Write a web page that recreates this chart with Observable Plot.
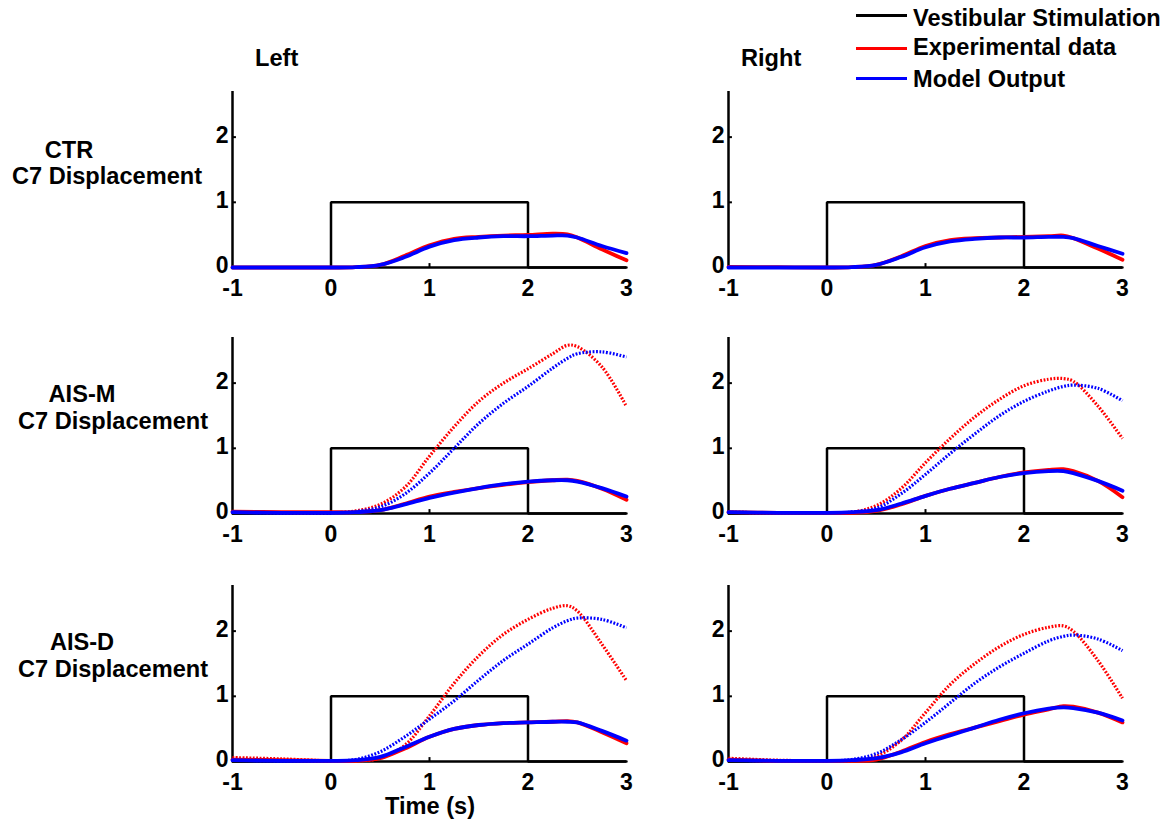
<!DOCTYPE html>
<html>
<head>
<meta charset="utf-8">
<script src="https://cdn.jsdelivr.net/npm/d3@7"></script>
<script src="https://cdn.jsdelivr.net/npm/@observablehq/plot@0.6"></script>
<style>
  html, body { margin: 0; padding: 0; background: #fff; }
  #root { position: relative; width: 1175px; height: 822px; overflow: hidden; background: #fff;
          font-family: 'Liberation Sans', Arial, sans-serif; font-weight: bold; color: #000; }
  .lbl { position: absolute; white-space: nowrap; line-height: 0.9; }
  .panel { position: absolute; }
  .panel svg { overflow: visible; }
  .legline { position: absolute; height: 3px; }
</style>
</head>
<body>
<div id="root"></div>
<script>
// ---------- data ----------
const TIME = [-1, -0.5, 0, 0.25, 0.5, 0.75, 1, 1.25, 1.5, 1.75, 2, 2.25, 2.4, 2.5, 2.75, 3];
const STIM_T = [-1, 0, 0, 2, 2, 3];
const STIM_V = [0, 0, 1, 1, 0, 0];
const X_TICKS = [-1, 0, 1, 2, 3];
const Y_TICKS = [0, 1, 2];

const COLUMNS = ["Left", "Right"];
const ROW_NAMES = ["CTR", "AIS-M", "AIS-D"];
const ROW_SUB = "C7 Displacement";
const X_LABEL = "Time (s)";
const LEGEND_LABELS = ["Vestibular Stimulation", "Experimental data", "Model Output"];
const LEGEND_COLORS = ["#000000", "#ff0000", "#0000ff"];

// CTR
const CTR_L_EXP = [0, 0, 0, 0.005, 0.04, 0.18, 0.34, 0.44, 0.47, 0.49, 0.50, 0.52, 0.51, 0.46, 0.28, 0.11];
const CTR_L_MOD = [0, 0, 0, 0.005, 0.04, 0.16, 0.32, 0.42, 0.46, 0.48, 0.48, 0.49, 0.49, 0.46, 0.33, 0.22];
const CTR_R_EXP = [0.01, 0.005, 0, 0.005, 0.04, 0.17, 0.33, 0.42, 0.45, 0.46, 0.47, 0.48, 0.49, 0.45, 0.29, 0.12];
const CTR_R_MOD = [0, 0, 0, 0.005, 0.04, 0.16, 0.31, 0.40, 0.44, 0.46, 0.46, 0.47, 0.47, 0.45, 0.33, 0.21];
// AIS-M
const AISM_L_EXP = [0.03, 0.02, 0.02, 0.02, 0.05, 0.15, 0.26, 0.33, 0.39, 0.44, 0.48, 0.51, 0.52, 0.50, 0.38, 0.21];
const AISM_L_MOD = [0.02, 0.01, 0.01, 0.02, 0.05, 0.14, 0.24, 0.32, 0.39, 0.45, 0.49, 0.51, 0.51, 0.49, 0.39, 0.26];
const AISM_L_EXP2 = [0.03, 0.01, 0.01, 0.04, 0.14, 0.40, 0.88, 1.33, 1.72, 2.00, 2.22, 2.45, 2.58, 2.56, 2.25, 1.64];
const AISM_L_MOD2 = [0.02, 0.01, 0.01, 0.03, 0.10, 0.30, 0.62, 1.00, 1.38, 1.69, 1.95, 2.23, 2.38, 2.45, 2.48, 2.40];
const AISM_R_EXP = [0.02, 0.01, 0.01, 0.01, 0.04, 0.14, 0.27, 0.38, 0.47, 0.56, 0.63, 0.67, 0.68, 0.65, 0.50, 0.25];
const AISM_R_MOD = [0.02, 0.01, 0.01, 0.02, 0.05, 0.15, 0.27, 0.38, 0.47, 0.56, 0.62, 0.65, 0.65, 0.62, 0.50, 0.35];
const AISM_R_EXP2 = [0.02, 0.01, 0.01, 0.02, 0.12, 0.38, 0.78, 1.15, 1.48, 1.75, 1.96, 2.06, 2.07, 2.03, 1.65, 1.15];
const AISM_R_MOD2 = [0.02, 0.01, 0.01, 0.02, 0.08, 0.30, 0.60, 0.92, 1.22, 1.50, 1.72, 1.88, 1.95, 1.97, 1.92, 1.73];
// AIS-D
const AISD_L_EXP = [0.03, 0.02, 0.01, 0.01, 0.05, 0.20, 0.38, 0.50, 0.56, 0.59, 0.60, 0.61, 0.62, 0.60, 0.45, 0.28];
const AISD_L_MOD = [0.02, 0.01, 0.01, 0.02, 0.07, 0.22, 0.38, 0.50, 0.56, 0.59, 0.60, 0.61, 0.61, 0.60, 0.47, 0.32];
const AISD_L_EXP2 = [0.06, 0.04, 0.01, 0.01, 0.05, 0.25, 0.70, 1.20, 1.62, 1.95, 2.18, 2.35, 2.39, 2.31, 1.80, 1.24];
const AISD_L_MOD2 = [0.02, 0.01, 0.01, 0.03, 0.15, 0.38, 0.65, 0.93, 1.25, 1.55, 1.80, 2.05, 2.16, 2.20, 2.18, 2.05];
const AISD_R_EXP = [0.03, 0.01, 0.01, 0.01, 0.03, 0.15, 0.30, 0.42, 0.52, 0.62, 0.72, 0.80, 0.85, 0.84, 0.75, 0.60];
const AISD_R_MOD = [0.02, 0.01, 0.01, 0.02, 0.05, 0.14, 0.28, 0.40, 0.52, 0.64, 0.74, 0.81, 0.83, 0.82, 0.75, 0.63];
const AISD_R_EXP2 = [0.05, 0.02, 0.01, 0.01, 0.08, 0.32, 0.75, 1.18, 1.50, 1.76, 1.95, 2.06, 2.08, 2.00, 1.55, 0.97];
const AISD_R_MOD2 = [0.02, 0.01, 0.01, 0.03, 0.12, 0.33, 0.60, 0.90, 1.20, 1.45, 1.66, 1.85, 1.92, 1.94, 1.88, 1.70];

const PANELS = [
  {row: 0, col: 0, exp: CTR_L_EXP, mod: CTR_L_MOD},
  {row: 0, col: 1, exp: CTR_R_EXP, mod: CTR_R_MOD},
  {row: 1, col: 0, exp: AISM_L_EXP, mod: AISM_L_MOD, exp2: AISM_L_EXP2, mod2: AISM_L_MOD2},
  {row: 1, col: 1, exp: AISM_R_EXP, mod: AISM_R_MOD, exp2: AISM_R_EXP2, mod2: AISM_R_MOD2},
  {row: 2, col: 0, exp: AISD_L_EXP, mod: AISD_L_MOD, exp2: AISD_L_EXP2, mod2: AISD_L_MOD2},
  {row: 2, col: 1, exp: AISD_R_EXP, mod: AISD_R_MOD, exp2: AISD_R_EXP2, mod2: AISD_R_MOD2}
];

// ---------- layout ----------
const root = document.getElementById("root");
const FS = 23.6;
const LH = 0.9;
function label(text, x, baseline, anchor = "start", fs = FS) {
  const d = document.createElement("div");
  d.className = "lbl";
  d.textContent = text;
  d.style.fontSize = fs + "px";
  // baseline offset for Liberation Sans (ascent .905, descent .212) with line-height LH
  const off = ((LH - 1.117) / 2 + 0.905) * fs;
  d.style.top = (baseline - off) + "px";
  d.style.left = x + "px";
  if (anchor === "middle") d.style.transform = "translateX(-50%)";
  root.appendChild(d);
}

const COL_LEFT = [190, 686];
const ROW_TOP = [81, 327, 575];
const W = 451, H = 216;

const toRows = (vals) => TIME.map((t, i) => ({t, v: vals[i]}));
const stim = STIM_T.map((t, i) => ({t, v: STIM_V[i]}));
const CURVE = "catmull-rom";

for (const p of PANELS) {
  const marks = [
    Plot.ruleY([0], {stroke: "#000", strokeWidth: 2.5}),
    Plot.ruleX([-1], {stroke: "#000", strokeWidth: 2.5}),
    Plot.ruleX(X_TICKS.slice(1, -1), {x: d => d, y1: 0, y2: 0.06, stroke: "#000", strokeWidth: 2}),
    Plot.ruleY(Y_TICKS.slice(1), {y: d => d, x1: -1, x2: -0.96, stroke: "#000", strokeWidth: 2}),
    Plot.axisX({ticks: X_TICKS, tickSize: 0, tickPadding: 12, tickFormat: d => String(d), label: null}),
    Plot.axisY({ticks: Y_TICKS, tickSize: 0, tickPadding: 4, tickFormat: d => String(d), label: null, dy: -2}),
    Plot.line(stim, {x: "t", y: "v", stroke: "#000", strokeWidth: 2.5, strokeLinejoin: "miter"})
  ];
  if (p.exp2) {
    marks.push(Plot.line(toRows(p.exp2), {x: "t", y: "v", stroke: "#ff0000", strokeWidth: 3.2, strokeDasharray: "1.8,1.6", strokeLinecap: "butt", curve: CURVE}));
    marks.push(Plot.line(toRows(p.mod2), {x: "t", y: "v", stroke: "#0000ff", strokeWidth: 3.2, strokeDasharray: "1.8,1.6", strokeLinecap: "butt", curve: CURVE}));
  }
  marks.push(Plot.line(toRows(p.exp), {x: "t", y: "v", stroke: "#ff0000", strokeWidth: 3.8, curve: CURVE}));
  marks.push(Plot.line(toRows(p.mod), {x: "t", y: "v", stroke: "#0000ff", strokeWidth: 3.8, curve: CURVE}));

  const chart = Plot.plot({
    width: W, height: H,
    marginLeft: 42, marginRight: 15, marginTop: 10, marginBottom: 30,
    x: {domain: [-1, 3]},
    y: {domain: [0, 2.7]},
    style: {fontFamily: "'Liberation Sans', Arial, sans-serif", fontSize: "23px", fontWeight: "bold", color: "#000", background: "transparent"},
    marks
  });
  const wrap = document.createElement("div");
  wrap.className = "panel";
  wrap.style.left = COL_LEFT[p.col] + "px";
  wrap.style.top = ROW_TOP[p.row] + "px";
  wrap.appendChild(chart);
  root.appendChild(wrap);
}

// column headers
label(COLUMNS[0], 255, 67);
label(COLUMNS[1], 741, 67);

// row labels
const ROW_NAME_X = [69, 82, 82];
const ROW_NAME_BASE = [158.5, 403, 651];
const ROW_SUB_X = [107, 113, 113];
const ROW_SUB_BASE = [185, 430, 678];
ROW_NAMES.forEach((n, i) => {
  label(n, ROW_NAME_X[i], ROW_NAME_BASE[i], "middle");
  label(ROW_SUB, ROW_SUB_X[i], ROW_SUB_BASE[i], "middle");
});

// x label
label(X_LABEL, 430, 815, "middle");

// legend
const LEG_LINE_Y = [15, 48, 78];
const LEG_TEXT_BASE = [26.5, 56, 88];
LEGEND_LABELS.forEach((t, i) => {
  const l = document.createElement("div");
  l.className = "legline";
  l.style.left = "856px";
  l.style.width = "51px";
  l.style.top = (LEG_LINE_Y[i] - 1.5) + "px";
  l.style.background = LEGEND_COLORS[i];
  root.appendChild(l);
  label(t, 913, LEG_TEXT_BASE[i]);
});
</script>
</body>
</html>
